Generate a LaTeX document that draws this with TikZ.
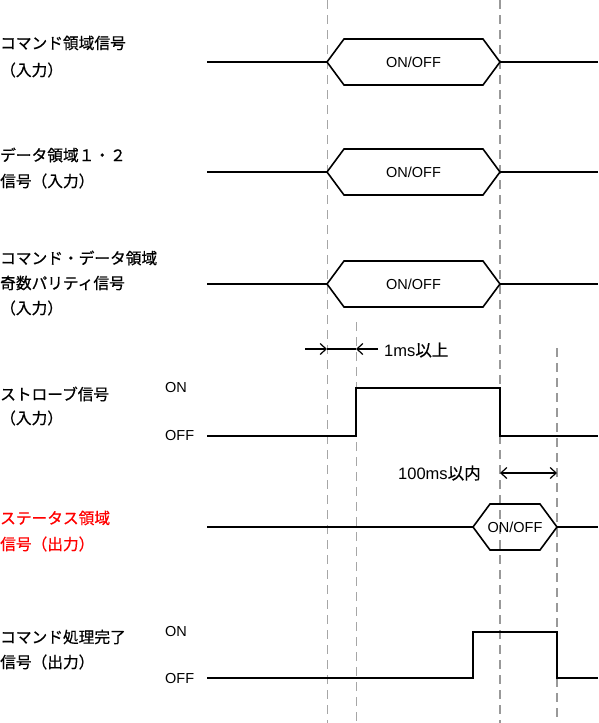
\documentclass[tikz,border=0pt]{standalone}
\usepackage{fontspec}
\setmainfont{Noto Sans CJK JP}[FakeBold=0.6]
\newfontfamily\lat{Liberation Sans}
\usetikzlibrary{arrows.meta}
\tikzset{
  sig/.style={line width=1.6pt, line join=miter},
  guide/.style={gray!70, line width=0.8pt, dash pattern=on 9pt off 6pt},
  guideb/.style={gray!80, line width=1.6pt, dash pattern=on 9pt off 6pt},
  lbl/.style={anchor=west, inner sep=0pt, font=\fontsize{15.7}{18}\selectfont},
  lvl/.style={anchor=west, inner sep=0pt, font=\fontsize{14.5}{16}\selectfont},
  dimtext/.style={anchor=west, inner sep=0pt, font=\fontsize{16.5}{18}\selectfont},
  hextext/.style={inner sep=0pt, font=\lat\fontsize{14.5}{16}\selectfont},
  tip/.tip={Straight Barb[length=6pt,width=11pt,line width=1.2pt]},
  dim/.style={line width=1.4pt, -tip},
}
\newcommand\hexbus[4]{% name, x1, x2, y
  \draw[sig] (#2,#4) -- ({#2+17},{#4-23}) -- ({#3-17},{#4-23}) -- (#3,#4) -- ({#3-17},{#4+23}) -- ({#2+17},{#4+23}) -- cycle;
  \node[hextext] (#1) at ({(#2+#3)/2},#4) {ON/OFF};
}
\begin{document}
\begin{tikzpicture}[x=1pt,y=-1pt]
\useasboundingbox (0,0) rectangle (598,723);
\fill[white] (0,0) rectangle (598,723);
% guides
\coordinate (g1t) at (327,0); \coordinate (g1b) at (327,723);
\coordinate (g2t) at (356,322); \coordinate (g2b) at (356,723);
\coordinate (g3t) at (500,0); \coordinate (g3b) at (500,723);
\coordinate (g4t) at (557,348); \coordinate (g4b) at (557,723);
\draw[guide] (g1t) -- (g1b);
\draw[guide] (g2t) -- (g2b);
\draw[guideb] (g3t) -- (g3b);
\draw[guideb] (g4t) -- (g4b);
% labels
\node[lbl] (l1a) at (0,43) {コマンド領域信号};
\node[lbl] (l1b) at (0,70) {（入力）};
\node[lbl] (l2a) at (0,155) {データ領域１・２};
\node[lbl] (l2b) at (0,181) {信号（入力）};
\node[lbl] (l3a) at (0,258) {コマンド・データ領域};
\node[lbl] (l3b) at (0,283) {奇数パリティ信号};
\node[lbl] (l3c) at (0,308) {（入力）};
\node[lbl] (l4a) at (0,394) {ストローブ信号};
\node[lbl] (l4b) at (0,418) {（入力）};
\node[lbl,text=red] (l5a) at (0,518) {ステータス領域};
\node[lbl,text=red] (l5b) at (0,544) {信号（出力）};
\node[lbl] (l6a) at (0,637) {コマンド処理完了};
\node[lbl] (l6b) at (0,662) {信号（出力）};
% bus signals
\draw[sig] (207,62) -- (327,62); \draw[sig] (500,62) -- (598,62);
\hexbus{h1}{327}{500}{62}
\draw[sig] (207,172) -- (327,172); \draw[sig] (500,172) -- (598,172);
\hexbus{h2}{327}{500}{172}
\draw[sig] (207,284) -- (327,284); \draw[sig] (500,284) -- (598,284);
\hexbus{h3}{327}{500}{284}
% strobe
\node[lvl] (on4) at (165,388) {\lat ON};
\node[lvl] (off4) at (165,436) {\lat OFF};
\draw[sig] (207,436) -- (356,436) -- (356,388) -- (500,388) -- (500,436) -- (598,436);
% 1ms
\coordinate (a1s) at (305,349); \coordinate (a1e) at (327,349);
\coordinate (a2s) at (378,349); \coordinate (a2e) at (356,349);
\draw[dim] (a1s) -- (a1e);
\draw[line width=1.4pt] (a1e) -- (a2e);
\draw[dim] (a2s) -- (a2e);
\node[dimtext] (t1) at (384,350) {{\lat 1ms}以上};
% status
\draw[sig] (207,527) -- (473,527); \draw[sig] (557,527) -- (598,527);
\hexbus{h5}{473}{557}{527}
% 100ms
\coordinate (b1) at (500,473); \coordinate (b2) at (557,473);
\draw[line width=1.4pt, tip-tip] (b1) -- (b2);
\node[dimtext] (t2) at (398,473) {{\lat 100ms}以内};
% complete
\node[lvl] (on6) at (165,632) {\lat ON};
\node[lvl] (off6) at (165,678) {\lat OFF};
\draw[sig] (207,678) -- (473,678) -- (473,632) -- (557,632) -- (557,678) -- (598,678);
\end{tikzpicture}
\end{document}
